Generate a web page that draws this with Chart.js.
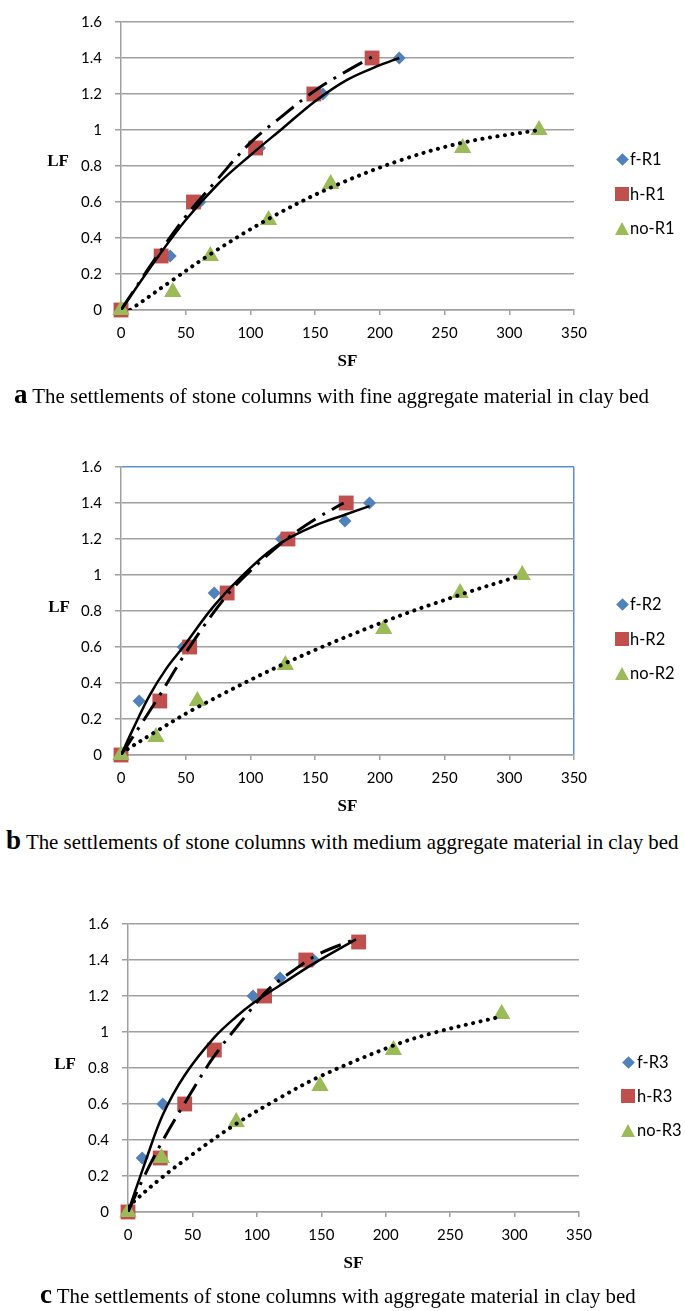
<!DOCTYPE html>
<html>
<head>
<meta charset="utf-8">
<script src="https://cdn.jsdelivr.net/npm/chart.js@4.4.1/dist/chart.umd.min.js"></script>
<style>
  body { margin: 0; background: #fff; }
  #page { position: relative; width: 685px; height: 1311px; overflow: hidden; }
  canvas { position: absolute; left: 0; }
  .lf { position: absolute; width: 40px; text-align: center; font: bold 17px "Liberation Serif", serif; line-height: 20px; }
  .item { position: absolute; font: 16.5px Lato, sans-serif; line-height: 20px; white-space: nowrap; color: #000; }
  .mk { position: absolute; }
  .dia { width: 9px; height: 9px; background: #4F81BD; transform: rotate(45deg); }
  .sq { width: 14px; height: 14px; background: #C0504D; }
  .tri { width: 0; height: 0; border-left: 7.5px solid transparent; border-right: 7.5px solid transparent; border-bottom: 13px solid #9BBB59; }
  .cap { position: absolute; font-family: "Liberation Serif", serif; font-size: 20.9px; line-height: 30px; white-space: nowrap; color: #000; }
  .cap b { font-size: 27px; line-height: 0; }
</style>
</head>
<body>
<div id="page">
  <canvas id="chartA" width="685" height="380" style="top:0px"></canvas>
  <canvas id="chartB" width="685" height="380" style="top:445px"></canvas>
  <canvas id="chartC" width="685" height="380" style="top:902px"></canvas>
</div>
<script>
// axis ticks
const sfTicks = [0, 50, 100, 150, 200, 250, 300, 350]
const lfTicks = [0, 0.2, 0.4, 0.6, 0.8, 1, 1.2, 1.4, 1.6]

// (a) fine aggregate
const namesA = ['f-R1', 'h-R1', 'no-R1']
const sfF1 = [0, 38, 61, 107, 156, 215]
const lfF1 = [0, 0.3, 0.6, 0.9, 1.2, 1.4]
const sfH1 = [0, 31, 56, 104, 149, 194]
const lfH1 = [0, 0.3, 0.6, 0.9, 1.2, 1.4]
const sfN1 = [0, 40, 69, 114, 162, 264, 323]
const lfN1 = [0, 0.1, 0.3, 0.5, 0.7, 0.9, 1.0]
// trendlines
const fitSfF1 = [0, 25, 50, 75, 100, 125, 150, 175, 200, 215]
const fitLfF1 = [0, 0.26, 0.50, 0.70, 0.86, 1.01, 1.16, 1.28, 1.36, 1.40]
const fitSfH1 = [0, 25, 50, 75, 100, 125, 150, 175, 195]
const fitLfH1 = [0, 0.27, 0.52, 0.73, 0.93, 1.08, 1.22, 1.33, 1.41]
const fitSfN1 = [7, 40, 69, 114, 162, 216, 265, 323]
const fitLfN1 = [0, 0.167, 0.31, 0.506, 0.68, 0.832, 0.931, 1.0]

// (b) medium aggregate
const namesB = ['f-R2', 'h-R2', 'no-R2']
const sfF2 = [0, 14, 48, 72, 124, 173, 192]
const lfF2 = [0, 0.3, 0.6, 0.9, 1.2, 1.3, 1.4]
const sfH2 = [0, 30, 53, 82, 129, 174]
const lfH2 = [0, 0.3, 0.6, 0.9, 1.2, 1.4]
const sfN2 = [0, 27, 59, 127, 203, 262, 310]
const lfN2 = [0, 0.1, 0.3, 0.5, 0.7, 0.9, 1.0]
const fitSfF2 = [0, 10, 22, 35, 48, 72, 100, 124, 150, 173, 192]
const fitLfF2 = [0, 0.155, 0.33, 0.48, 0.6, 0.83, 1.04, 1.18, 1.275, 1.335, 1.383]
const fitSfH2 = [0, 28, 52, 81, 101, 128, 150, 172]
const fitLfH2 = [0, 0.31, 0.59, 0.88, 1.03, 1.2, 1.31, 1.4]
const fitSfN2 = [0, 27, 59, 127, 203, 262, 308]
const fitLfN2 = [0.01, 0.13, 0.265, 0.51, 0.74, 0.89, 0.995]

// (c) aggregate
const namesC = ['f-R3', 'h-R3', 'no-R3']
const sfF3 = [0, 11, 27, 97, 118, 144, 177]
const lfF3 = [0, 0.3, 0.6, 1.2, 1.3, 1.4, 1.5]
const sfH3 = [0, 25, 44, 67, 106, 138, 179]
const lfH3 = [0, 0.3, 0.6, 0.9, 1.2, 1.4, 1.5]
const sfN3 = [0, 26, 84, 149, 206, 290]
const lfN3 = [0, 0.3, 0.5, 0.7, 0.9, 1.1]
const fitSfF3 = [0, 14, 27, 44, 67, 84, 97, 118, 144, 177]
const fitLfF3 = [0, 0.29, 0.54, 0.76, 0.97, 1.085, 1.16, 1.26, 1.38, 1.515]
const fitSfH3 = [0, 12, 28, 47, 67, 91, 109, 128, 148, 178]
const fitLfH3 = [0, 0.19, 0.41, 0.64, 0.867, 1.086, 1.237, 1.34, 1.433, 1.52]
const fitSfN3 = [0, 26, 50, 84, 118, 148, 206, 237, 289]
const fitLfN3 = [0.03, 0.19, 0.32, 0.49, 0.635, 0.75, 0.925, 0.995, 1.085]

const captionA = ['a', 'The settlements of stone columns with fine aggregate material in clay bed']
const captionB = ['b', 'The settlements of stone columns with medium aggregate material in clay bed']
const captionC = ['c', 'The settlements of stone columns with aggregate material in clay bed']

const GRAY = '#a0a0a0'
const BLUE = '#5b8fd0'
const COLORS = ['#4F81BD', '#C0504D', '#9BBB59']

const pts = (xs, ys) => xs.map((x, i) => ({x: x, y: ys[i]}))

const markers = (names, f, h, n) => [
  {label: names[0], data: pts(f[0], f[1]), pointStyle: 'rectRot', pointRadius: 6.5, backgroundColor: COLORS[0], order: 3},
  {label: names[1], data: pts(h[0], h[1]), pointStyle: 'rect', pointRadius: 10.5, backgroundColor: COLORS[1], order: 2},
  {label: names[2], data: pts(n[0], n[1]), pointStyle: 'triangle', pointRadius: 10, backgroundColor: COLORS[2], order: 1}
].map((d) => Object.assign(d, {showLine: false, pointBorderWidth: 0, borderWidth: 0, clip: false}))

const trends = (f, h, n) => [
  {data: pts(f[0], f[1]), borderWidth: 2.5, borderDash: []},
  {data: pts(h[0], h[1]), borderWidth: 3, borderDash: [22, 8, 3, 8]},
  {data: pts(n[0], n[1]), borderWidth: 4, borderDash: [0.1, 7.5], borderCapStyle: 'round'}
].map((d) => Object.assign(d, {
  showLine: true, pointRadius: 0, borderColor: '#000', fill: false,
  tension: 0.35, order: 0
}))

const panels = [
  {
    id: 'chartA', top: 0, left: 121, right: 574, blueFrame: false,
    names: namesA, caption: captionA,
    datasets: trends([fitSfF1, fitLfF1], [fitSfH1, fitLfH1], [fitSfN1, fitLfN1])
      .concat(markers(namesA, [sfF1, lfF1], [sfH1, lfH1], [sfN1, lfN1])),
    lf: [58, 161], legendX: 622, textX: 630, rows: [159, 194, 228], cap: [14, 381]
  },
  {
    id: 'chartB', top: 445, left: 121, right: 574, blueFrame: true,
    names: namesB, caption: captionB,
    datasets: trends([fitSfF2, fitLfF2], [fitSfH2, fitLfH2], [fitSfN2, fitLfN2])
      .concat(markers(namesB, [sfF2, lfF2], [sfH2, lfH2], [sfN2, lfN2])),
    lf: [59, 607], legendX: 622, textX: 630, rows: [604, 639, 673], cap: [6, 827]
  },
  {
    id: 'chartC', top: 902, left: 128, right: 579, blueFrame: false,
    names: namesC, caption: captionC,
    datasets: trends([fitSfF3, fitLfF3], [fitSfH3, fitLfH3], [fitSfN3, fitLfN3])
      .concat(markers(namesC, [sfF3, lfF3], [sfH3, lfH3], [sfN3, lfN3])),
    lf: [65, 1064], legendX: 628, textX: 637, rows: [1062, 1096, 1130], cap: [40, 1281]
  }
]

const tickFont = {family: 'Lato', size: 15}
const page = document.getElementById('page')

const addDiv = (cls, left, top, html) => {
  const el = document.createElement('div')
  el.className = cls
  el.style.left = left + 'px'
  el.style.top = top + 'px'
  el.innerHTML = html
  page.appendChild(el)
  return el
}

panels.forEach((p) => {
  new Chart(document.getElementById(p.id), {
    type: 'scatter',
    data: {datasets: p.datasets},
    options: {
      responsive: false,
      animation: false,
      devicePixelRatio: 1,
      events: [],
      layout: {padding: {top: 10, left: 0, right: 685 - p.right, bottom: 0}},
      plugins: {legend: {display: false}, tooltip: {enabled: false}},
      scales: {
        x: {
          min: 0, max: 350,
          afterFit: (s) => { s.height = 70 },
          afterBuildTicks: (s) => { s.ticks = sfTicks.map((v) => ({value: v})) },
          ticks: {padding: 9, color: '#000', font: tickFont, callback: (v) => String(v)},
          grid: {
            drawOnChartArea: p.blueFrame,
            color: (ctx) => (p.blueFrame && ctx.tick && ctx.tick.value === 350) ? BLUE : 'rgba(0,0,0,0)',
            tickColor: GRAY, tickLength: 5, lineWidth: 1.5
          },
          border: {color: GRAY, width: 1.5},
          title: {
            display: true, text: 'SF', color: '#000',
            font: {family: 'Liberation Serif', size: 17, weight: 'bold'},
            padding: {top: 0, bottom: 8}
          }
        },
        y: {
          min: 0, max: 1.6,
          afterFit: (s) => { s.width = p.left },
          afterBuildTicks: (s) => { s.ticks = lfTicks.map((v) => ({value: v})) },
          ticks: {padding: 13, color: '#000', font: tickFont, callback: (v) => String(v)},
          grid: {
            color: (ctx) => (p.blueFrame && ctx.tick && ctx.tick.value === 1.6) ? BLUE : GRAY,
            tickColor: GRAY, tickLength: 6, lineWidth: 1.5
          },
          border: {color: GRAY, width: 1.5}
        }
      }
    }
  })

  addDiv('lf', p.lf[0] - 20, p.lf[1] - 10, 'LF')

  const shapes = ['dia', 'sq', 'tri']
  const half = [4.5, 7, 7.5]
  const halfH = [4.5, 7, 6.5]
  p.names.forEach((name, i) => {
    addDiv('mk ' + shapes[i], p.legendX - half[i], p.rows[i] - halfH[i], '')
    addDiv('item', p.textX, p.rows[i] - 10.5, name)
  })

  addDiv('cap', p.cap[0], p.cap[1], '<b>' + p.caption[0] + '</b> ' + p.caption[1])
})
</script>
</body>
</html>
